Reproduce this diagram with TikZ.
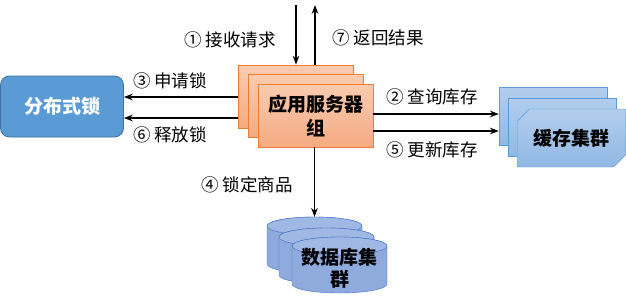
\documentclass[tikz,border=0pt]{standalone}
\usepackage{fontspec}
\setmainfont{Noto Sans CJK SC}
\usetikzlibrary{arrows.meta,positioning,shapes.geometric,shapes.misc}
\definecolor{lockblue}{RGB}{91,155,213}
\definecolor{lockedge}{RGB}{65,113,156}
\definecolor{appedge}{RGB}{237,125,49}
\definecolor{applight}{RGB}{250,204,176}
\definecolor{appdark}{RGB}{244,170,130}
\definecolor{cachelight}{RGB}{178,206,238}
\definecolor{cachedark}{RGB}{145,184,228}
\definecolor{cacheedge}{RGB}{91,155,213}
\definecolor{dbbody}{RGB}{143,170,220}
\definecolor{dbtop}{RGB}{160,184,228}
\definecolor{dbedge}{RGB}{68,114,196}
\tikzset{
  lockbox/.style = {draw=lockedge,fill=lockblue,rounded corners=9pt,thick,
                    minimum width=123pt,minimum height=61pt,
                    text=white,font=\fontsize{19}{22}\selectfont\bfseries},
  appbox/.style  = {draw=appedge,thick,top color=applight,bottom color=appdark,
                    minimum width=115pt,minimum height=63pt,align=center,
                    font=\fontsize{19}{24}\selectfont\bfseries},
  cachebox/.style= {chamfered rectangle,chamfered rectangle xsep=6pt,
                    chamfered rectangle ysep=6pt,
                    chamfered rectangle corners={north west,south east},
                    draw=cacheedge,top color=cachelight,bottom color=cachedark,
                    minimum width=108pt,minimum height=58pt,inner sep=0pt,
                    font=\fontsize{19}{22}\selectfont\bfseries},
  dbbox/.style   = {minimum width=95pt,minimum height=56pt,inner sep=0pt,
                    align=center,font=\fontsize{19}{22}\selectfont\bfseries},
  arrow/.style   = {->,>=Stealth,line width=1.3pt},
  lbl/.style     = {font=\fontsize{17.5}{20}\selectfont,inner sep=1pt},
}
% cylinder drawn round a centre coordinate (95 x 56)
\newcommand{\dbshape}[1]{%
  \filldraw[fill=dbbody,draw=dbedge] ([shift={(-47.5pt,19pt)}]#1)
    -- ([shift={(-47.5pt,-19pt)}]#1)
    arc[start angle=180,end angle=360,x radius=47.5pt,y radius=9pt]
    -- ([shift={(47.5pt,19pt)}]#1)
    arc[start angle=0,end angle=180,x radius=47.5pt,y radius=9pt] -- cycle;
  \filldraw[fill=dbtop,draw=dbedge] ([yshift=19pt]#1)
    ellipse[x radius=47.5pt,y radius=9pt];}
\begin{document}
\begin{tikzpicture}[x=1pt,y=-1pt]
  \useasboundingbox (0,0) rectangle (626,303);

  \node[lockbox] (lock) at (62,106.5) {分布式锁};

  % server group, three stacked copies
  \node[appbox] (app1) at (296,96.5) {};
  \node[appbox] (app2) at (306,105.5) {};
  \node[appbox] (app3) at (315.5,115.5) {应用服务器\\组};

  \node[cachebox] (cache1) at (553,116) {};
  \node[cachebox] (cache2) at (562.5,127) {};
  \node[cachebox] (cache3) at (571.5,138) {缓存集群};

  \coordinate (c1) at (314.5,245);
  \coordinate (c2) at (326.5,256);
  \coordinate (c3) at (339.5,265);
  \dbshape{c1} \node[dbbox] (db1) at (c1) {};
  \dbshape{c2} \node[dbbox] (db2) at (c2) {};
  \dbshape{c3} \node[dbbox] (db3) at ([yshift=-3pt]c3) {数据库集\\群};

  \coordinate (req) at (296,5);
  \coordinate (res) at (315,5);

  \draw[arrow] (req) -- (app1.north);
  \draw[arrow] (app1.north -| res) -- (res);
  \draw[arrow] ([yshift=-0.5pt]app1.west) -- ([yshift=-0.5pt]app1.west -| lock.east);
  \draw[arrow] ([yshift=-21.5pt]app1.west) -- ([yshift=-21.5pt]app1.west -| lock.east);
  \draw[arrow] ([yshift=1.5pt]app3.east) -- ([yshift=1.5pt]app3.east -| cache1.west);
  \draw[arrow] ([yshift=-15.5pt]app3.east) -- ([yshift=-15.5pt]app3.east -| cache1.west);
  \draw[arrow] (app3.south -| db1.north) -- (db1.north);

  \node[lbl] (l1) at (230,40) {① 接收请求};
  \node[lbl] (l7) at (378,38) {⑦ 返回结果};
  \node[lbl] (l3) at (170,81) {③ 申请锁};
  \node[lbl] (l6) at (170,135) {⑥ 释放锁};
  \node[lbl] (l2) at (432,97) {② 查询库存};
  \node[lbl] (l5) at (432,150) {⑤ 更新库存};
  \node[lbl] (l4) at (247,185) {④ 锁定商品};
\end{tikzpicture}
\end{document}
